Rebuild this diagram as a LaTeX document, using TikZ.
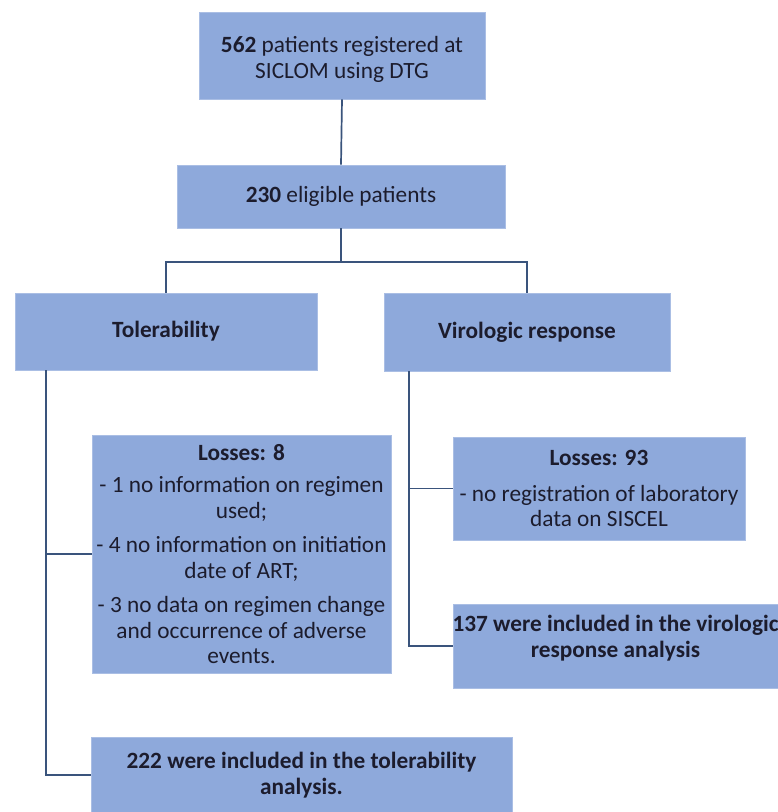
\documentclass[tikz,border=0pt]{standalone}
\usepackage{fontspec}
\setmainfont{Carlito}
\definecolor{boxfill}{RGB}{142,169,219}
\definecolor{boxedge}{RGB}{170,190,228}
\definecolor{linecol}{RGB}{58,84,124}
\definecolor{txtcol}{RGB}{28,28,45}
\tikzset{
  fbox/.style={rectangle, fill=boxfill, draw=boxedge, line width=0.6pt, align=center,
    inner sep=0pt, text=txtcol, font=\fontsize{23.3}{25.5}\selectfont},
  boldbox/.style={fbox, font=\fontsize{23.3}{25.5}\selectfont\bfseries},
  boxtext/.style={align=center, inner sep=0pt, text=txtcol, font=\fontsize{23.3}{25.5}\selectfont},
  conn/.style={draw=linecol, line width=1.7pt}
}
\begin{document}
\begin{tikzpicture}[x=1pt,y=-1pt]
\useasboundingbox (0,0) rectangle (778,812);
\fill[white] (0,0) rectangle (778,812);
\node[fbox, minimum width=286, minimum height=87,
  label={[boxtext, yshift=-4pt]center:{\textbf{562} patients registered at\\SICLOM using DTG}}] (b1) at (342,55.5) {};
\node[fbox, minimum width=328, minimum height=63] (b2) at (341,196.5)
  {\textbf{230} eligible patients};
\node[boldbox, minimum width=302, minimum height=77] (tol) at (166,331.5)
  {Tolerability};
\node[boldbox, minimum width=286, minimum height=78] (vir) at (527,332)
  {Virologic response};
\node[fbox, minimum width=299, minimum height=238] (l8) at (241.5,554)
  {\textbf{Losses: 8}\\[7pt]
   - 1 no information on regimen\\used;\\[9pt]
   - 4 no information on initiation\\date of ART;\\[9pt]
   - 3 no data on regimen change\\and occurrence of adverse\\events.};
\node[fbox, minimum width=292, minimum height=103] (l93) at (599,488.5)
  {\textbf{Losses: 93}\\[10pt]
   - no registration of laboratory\\data on SISCEL};
\node[fbox, minimum width=325, minimum height=84,
  label={[boxtext, font=\fontsize{23.3}{25.5}\selectfont\bfseries, yshift=8pt]center:{137 were included in the virologic\\response analysis}}] (b137) at (615.5,646) {};
\node[boldbox, minimum width=421, minimum height=76] (b222) at (301.5,775)
  {222 were included in the tolerability\\analysis.};
\draw[conn] (b1.south) -- (b2.north);
\draw[conn] (b2.south) -- ++(0,34) -| (tol.north);
\draw[conn] (b2.south) -- ++(0,34) -| (vir.north);
\coordinate (tolspine) at ([xshift=31pt]tol.south west);
\coordinate (virspine) at ([xshift=25pt]vir.south west);
\draw[conn] (tolspine) |- (l8.west);
\draw[conn] (tolspine) |- (b222.west);
\draw[conn] (virspine) |- (l93.west);
\draw[conn] (virspine) |- (b137.west);
\end{tikzpicture}
\end{document}
